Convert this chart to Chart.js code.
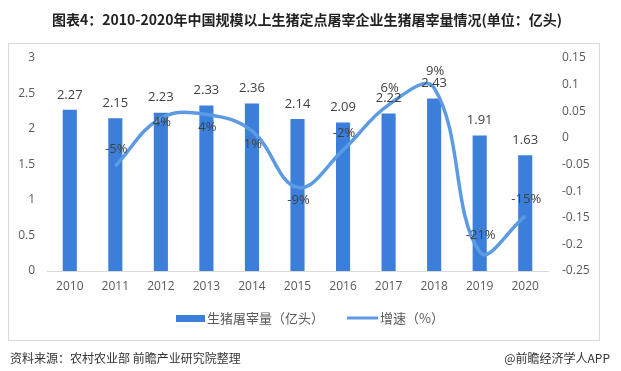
<!DOCTYPE html>
<html>
<head>
<meta charset="utf-8">
<script src="https://cdn.jsdelivr.net/npm/chart.js@4"></script>
<style>
  html, body { margin: 0; padding: 0; background: #fff; }
  #wrap { position: relative; width: 621px; height: 371px; }
</style>
</head>
<body>
<div id="wrap"><canvas id="chart" width="621" height="371"></canvas></div>
<script>
// data
const years = ['2010', '2011', '2012', '2013', '2014', '2015', '2016', '2017', '2018', '2019', '2020'];
const slaughter = [2.27, 2.15, 2.23, 2.33, 2.36, 2.14, 2.09, 2.22, 2.43, 1.91, 1.63];
const growth = [null, -0.053, 0.037, 0.044, 0.013, -0.093, -0.023, 0.062, 0.094, -0.214, -0.147];
const leftTicks = [0, 0.5, 1, 1.5, 2, 2.5, 3];
const rightTicks = [-0.25, -0.2, -0.15, -0.1, -0.05, 0, 0.05, 0.1, 0.15];

const titleText = '图表4：2010-2020年中国规模以上生猪定点屠宰企业生猪屠宰量情况(单位：亿头)';
const sourceText = '资料来源：农村农业部 前瞻产业研究院整理';
const brandText = '@前瞻经济学人APP';

// where each growth label sits relative to its point
const growthLabelPos = ['', 'above', 'center', 'below', 'below', 'below', 'above', 'above', 'above', 'above', 'above'];

const barColor = '#3B7FDB';
const lineColor = '#5C9BE3';
const tickFont = { family: '"Open Sans", "Noto Sans", sans-serif', size: 12 };

const decorPlugin = {
    id: 'decor',
    beforeDraw(chart) {
        const ctx = chart.ctx;
        ctx.save();
        ctx.fillStyle = '#fff';
        ctx.fillRect(0, 0, chart.width, chart.height);
        // frame
        ctx.strokeStyle = '#d9d9d9';
        ctx.lineWidth = 1;
        ctx.strokeRect(8.5, 43.5, 591, 297);
        // title
        ctx.fillStyle = '#222';
        ctx.font = 'bold 14px "Noto Sans CJK SC", sans-serif';
        ctx.textAlign = 'center';
        ctx.textBaseline = 'middle';
        ctx.fillText(titleText, 307, 20);
        // source line
        ctx.fillStyle = '#333';
        ctx.font = '12px "Noto Sans CJK SC", sans-serif';
        ctx.textAlign = 'left';
        ctx.fillText(sourceText, 10, 358);
        ctx.textAlign = 'right';
        ctx.fillText(brandText, 610, 358);
        ctx.restore();
    },
    afterDraw(chart) {
        const ctx = chart.ctx;
        ctx.save();
        // bar value labels
        ctx.fillStyle = '#404040';
        ctx.font = '13px "Open Sans", "Noto Sans", sans-serif';
        ctx.textAlign = 'center';
        ctx.textBaseline = 'middle';
        chart.getDatasetMeta(0).data.forEach((bar, i) => {
            ctx.fillText(slaughter[i].toFixed(2), bar.x, bar.y - 15);
        });
        // growth labels
        chart.getDatasetMeta(1).data.forEach((pt, i) => {
            if (growth[i] === null) return;
            let dy = -17;
            if (growthLabelPos[i] === 'below') dy = 13;
            if (growthLabelPos[i] === 'center') dy = 4;
            ctx.fillText(Math.round(growth[i] * 100) + '%', pt.x + 1, pt.y + dy);
        });
        // legend
        const ly = 318;
        ctx.fillStyle = barColor;
        ctx.fillRect(176, ly - 3, 29, 7);
        ctx.fillStyle = '#595959';
        ctx.font = '13px "Noto Sans CJK SC", sans-serif';
        ctx.textAlign = 'left';
        ctx.fillText(chart.data.datasets[0].label, 207, ly);
        ctx.strokeStyle = lineColor;
        ctx.lineWidth = 3;
        ctx.beginPath();
        ctx.moveTo(347, ly);
        ctx.lineTo(378, ly);
        ctx.stroke();
        ctx.fillText(chart.data.datasets[1].label, 380, ly);
        ctx.restore();
    }
};

const chartCtx = document.getElementById('chart').getContext('2d');
const chart = new Chart(chartCtx, {
    data: {
        labels: years,
        datasets: [{
            type: 'bar',
            label: '生猪屠宰量（亿头）',
            data: slaughter,
            backgroundColor: barColor,
            barPercentage: 0.31,
            categoryPercentage: 1,
            yAxisID: 'y',
            order: 2
        }, {
            type: 'line',
            label: '增速（%）',
            data: growth,
            borderColor: lineColor,
            borderWidth: 3.5,
            pointRadius: 0,
            tension: 0.4,
            fill: false,
            yAxisID: 'y1',
            order: 1
        }]
    },
    options: {
        responsive: false,
        animation: false,
        layout: { padding: { top: 58, left: 0, right: 0, bottom: 0 } },
        plugins: {
            legend: { display: false },
            tooltip: { enabled: false }
        },
        scales: {
            x: {
                grid: { display: false, drawTicks: false },
                border: { color: '#d9d9d9' },
                ticks: { color: '#595959', font: tickFont, padding: 8, maxRotation: 0 },
                afterFit(scale) { scale.height = 100; }
            },
            y: {
                position: 'left',
                min: 0,
                max: 3,
                grid: { display: false, drawTicks: false },
                border: { display: false },
                afterBuildTicks(scale) { scale.ticks = leftTicks.map(v => ({ value: v })); },
                ticks: {
                    color: '#595959',
                    font: tickFont,
                    padding: 12,
                    callback: v => String(v)
                },
                afterFit(scale) { scale.width = 47; }
            },
            y1: {
                position: 'right',
                min: -0.25,
                max: 0.15,
                grid: { display: false, drawTicks: false },
                border: { display: false },
                afterBuildTicks(scale) { scale.ticks = rightTicks.map(v => ({ value: v })); },
                ticks: {
                    color: '#595959',
                    font: tickFont,
                    padding: 14,
                    callback: v => String(Math.round(v * 100) / 100)
                },
                afterFit(scale) { scale.width = 73; }
            }
        }
    },
    plugins: [decorPlugin]
});
</script>
</body>
</html>
